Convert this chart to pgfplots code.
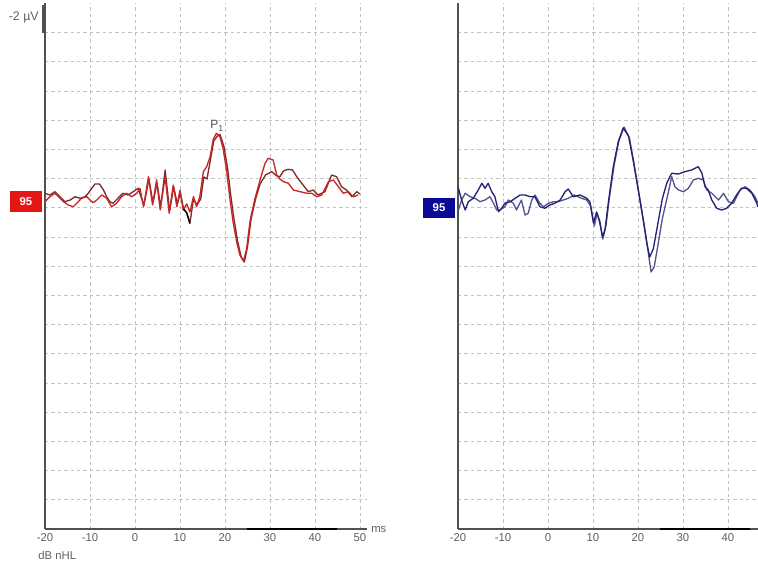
\documentclass[border=0pt]{standalone}
\usepackage{fontspec}
\setmainfont{Liberation Sans}
\usepackage{pgfplots}
\pgfplotsset{compat=1.18}
\definecolor{tr1}{RGB}{200,38,38}
\definecolor{tr2}{RGB}{125,45,45}
\definecolor{bl1}{RGB}{35,35,115}
\definecolor{bl2}{RGB}{85,85,140}
\definecolor{gridc}{RGB}{195,195,195}
\definecolor{axc}{RGB}{80,80,80}
\definecolor{labc}{RGB}{95,95,95}
\definecolor{boxred}{RGB}{228,22,22}
\definecolor{boxblue}{RGB}{10,10,150}
\pgfplotsset{ecg/.style={
  scale only axis, height=394.5pt, ymin=0, ymax=526,
  axis x line*=bottom, axis y line*=left,
  axis line style={-, axc, line width=0.9pt},
  major tick length=0,
  ytick={29.2,58.4,87.6,116.8,146,175.2,204.4,233.6,262.8,292,321.2,350.4,379.6,408.8,438,467.2,496.4},
  yticklabels={},
  grid=major,
  grid style={gridc, line width=0.6pt, dash pattern=on 2.6pt off 2.2pt},
  tick label style={font=\fontsize{8.5}{10}\selectfont, text=labc},
  every axis plot/.append style={line join=round},
  /pgf/number format/assume math mode=true,
  clip=false, anchor=south west}}
\begin{document}
\begin{tikzpicture}
\path[use as bounding box] (0,0) rectangle (568.5pt,-424.5pt);
% left panel
\begin{axis}[ecg, at={(33.75pt,-396.75pt)}, width=241.5pt, xmin=-20, xmax=51.56, xtick={-20,-10,...,50}]
\addplot[black, line width=2.2pt] coordinates {(25,0)(45,0)};
\addplot[tr2, line width=1pt] coordinates {
(-20,335.7)(-18.9,334)(-17.8,337.3)(-16.7,332.3)(-15.6,327.3)(-14.4,329)(-13.3,332.3)(-12.2,330.7)(-11.1,332.3)(-10.4,335.7)(-9.6,340.7)(-8.9,345)(-7.9,345)(-7.0,339)(-6.3,332.3)(-5.6,327.3)(-4.9,325.7)(-3.8,330.7)(-2.7,335.7)(-1.6,334)(-0.4,337.3)(0.7,340.7)(1.5,330)(2.0,324)(3.1,350)(4.0,326)(4.9,346)(5.7,322)(6.7,359)(7.7,318)(8.6,342)(9.4,325)(10.1,336)(10.8,320)(11.5,316)(12.2,305.7)(13.0,330)(13.8,324)(14.6,330)(15.3,352)(16.0,350)(16.8,370)(17.5,388)(18.3,393)(18.9,394.5)(19.8,382)(20.6,360)(21.3,333)(22.0,310)(22.8,288)(23.6,272)(24.3,267)(25.0,282)(25.8,310)(26.8,330)(27.8,345)(29.0,354)(30.4,357.3)(31.5,353)(32.2,352.3)(33.0,358)(34.0,359.7)(35.0,359)(36.0,352)(37.4,343.7)(38.5,337.3)(39.6,339)(40.7,334)(42.2,337.3)(43.7,354)(44.8,352.3)(45.9,342.3)(47.0,339)(48.2,332.3)(49.3,337.3)(50,335)};
\addplot[tr1, line width=1pt] coordinates {
(-20,327.3)(-18.9,332.3)(-17.8,335.7)(-17.0,332.3)(-15.9,327.3)(-14.8,324)(-13.7,322.3)(-12.6,327.3)(-11.9,330.7)(-10.7,332.3)(-10,329)(-9.3,326.3)(-8.5,329)(-7.4,334)(-6.3,330.7)(-5.2,322.3)(-4.1,325.7)(-3.0,332.3)(-1.9,335.7)(-0.7,332.3)(0.4,335.7)(1.1,340.7)(1.9,322.3)(3.0,352.3)(3.9,324)(4.8,349)(5.6,319)(6.7,352)(7.6,315.7)(8.5,344)(9.3,322.3)(10.0,339)(10.7,319)(11.5,325)(12.2,317)(13.0,332.3)(13.7,322.3)(14.4,332.3)(15.2,357.3)(15.9,362)(16.7,372.3)(17.4,390)(18.1,395.7)(18.9,392)(19.6,380)(20.4,357)(21.1,330)(21.8,307)(22.6,287)(23.3,274)(24.1,268)(24.8,280)(25.6,309)(26.7,331)(27.8,349)(28.9,365.7)(29.6,370.7)(30.7,369)(31.5,354)(32.2,350)(33.0,347.3)(34.1,345.7)(35.2,339)(36.7,337.3)(38.2,335.7)(39.3,335.7)(40.4,332.3)(41.5,334)(43.0,347.3)(44.1,349)(45.2,342.3)(46.3,335.7)(47.4,337.3)(48.5,332.3)(49.6,334)};
\addplot[black, line width=1pt] coordinates {(10.8,320)(11.5,316)(12.2,305.7)};
\node[text=axc, font=\fontsize{9}{10}\selectfont] at (axis cs:18.2,403) {P\raisebox{-0.4ex}{\fontsize{6.5}{7}\selectfont 1}};
\end{axis}
% right panel
\begin{axis}[ecg, at={(343.5pt,-396.75pt)}, width=225pt, xmin=-20, xmax=46.67, xtick={-20,-10,...,40}]
\addplot[black, line width=2.2pt] coordinates {(25,0)(45,0)};
\addplot[bl2, line width=1pt] coordinates {
(-19.9,319)(-19.2,329)(-18.4,335.7)(-17.3,332.3)(-16.2,330.7)(-15.1,327.3)(-14.0,329)(-12.9,332.3)(-12.1,325.7)(-11.4,319)(-10.7,319)(-9.6,322.3)(-8.8,329)(-7.7,325.7)(-7.0,319)(-5.9,329)(-5.1,314)(-4.4,315.7)(-3.6,329)(-2.9,334)(-1.8,325.7)(-1.0,322.3)(0.1,325.7)(1.2,327.3)(2.3,327.3)(3.4,329)(4.5,330.7)(5.8,334)(7.3,331)(8.6,329)(9.5,323)(10.3,303)(10.9,316)(11.6,304)(12.2,290)(12.9,304)(13.6,330)(14.7,364)(15.8,389)(16.9,402)(18.1,391)(19.2,363)(20.3,333)(21.4,303)(22.3,276)(22.9,257)(23.6,262)(24.4,283)(25.4,310)(26.7,336)(27.5,352.3)(28.2,342.3)(29.0,339)(30.1,337.3)(31.2,340.7)(32.3,349)(33.4,350.7)(34.5,349)(35.3,339)(36.4,335.7)(37.9,329)(39.0,335.7)(40.1,327.3)(41.2,325.7)(42.7,339)(43.8,342.3)(44.9,339)(46.0,332.3)(46.67,325.7)};
\addplot[bl1, line width=1pt] coordinates {
(-19.9,340.7)(-19.2,329)(-18.4,319)(-17.7,327.3)(-16.6,330.7)(-15.5,339)(-14.7,345.7)(-14.0,340.7)(-13.3,345.7)(-12.5,337.3)(-11.8,332.3)(-11.0,317.3)(-10.3,320.7)(-9.6,325.7)(-8.4,327.3)(-7.3,330.7)(-6.2,334)(-5.1,334)(-4.0,332.3)(-2.9,332.3)(-1.8,322.3)(-0.7,320.7)(0.4,324)(1.5,325.7)(2.7,329)(3.8,337.3)(4.5,340)(5.6,332.3)(7.1,334)(8.6,330.7)(9.3,327.3)(10.1,306)(10.8,317)(11.5,308)(12.1,292)(12.7,300)(13.4,326)(14.5,362)(15.6,387)(16.7,401)(17.9,393)(19.0,367)(20.1,338)(21.2,308)(22.0,285)(22.6,272)(23.4,280)(24.4,305)(25.4,330)(26.4,346)(27.5,355.7)(29.0,355)(30.4,357.3)(31.9,359)(33.4,362.3)(34.2,356)(34.9,342.3)(35.6,339)(36.4,329)(37.5,320.7)(38.6,319)(39.7,320.7)(40.8,325.7)(41.9,334)(43.0,340.7)(44.1,340.7)(45.3,335.7)(46.4,325.7)(46.67,322)};
\end{axis}
\begin{scope}[x=0.75pt, y=-0.75pt]
\draw[axc, line width=1.4pt] (43.3,5)--(43.3,32.5)--(45,32.5);
\node[anchor=east, inner sep=0, text=labc, font=\fontsize{9.3}{10}\selectfont] at (39,17) {-2 µV};
\node[anchor=west, inner sep=0, text=labc, font=\fontsize{8.5}{10}\selectfont] at (371,530) {ms};
\node[anchor=west, inner sep=0, text=labc, font=\fontsize{8.5}{10}\selectfont] at (38,555) {dB nHL};
\node[fill=boxred, text=white, inner sep=0, minimum width=24pt, minimum height=15.75pt, font=\bfseries\fontsize{8.5}{10}\selectfont] at (26,201.5) {95};
\node[fill=boxblue, text=white, inner sep=0, minimum width=24pt, minimum height=15pt, font=\bfseries\fontsize{8.5}{10}\selectfont] at (439,208) {95};
\end{scope}
\end{tikzpicture}
\end{document}
